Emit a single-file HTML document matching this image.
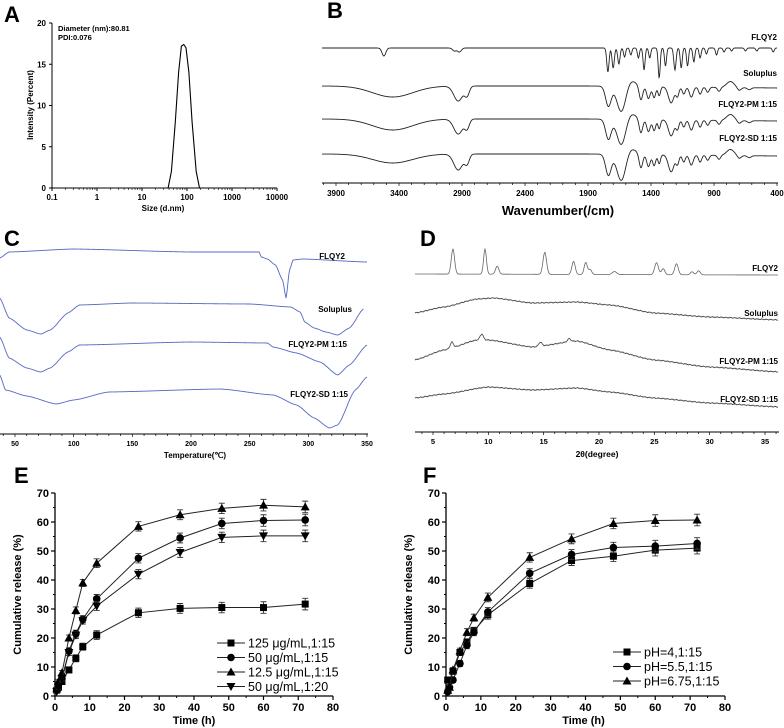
<!DOCTYPE html>
<html><head><meta charset="utf-8"><style>
html,body{margin:0;padding:0;background:#fff}
svg{display:block;font-family:"Liberation Sans",Arial,sans-serif}
</style></head><body>
<svg id="fig" width="784" height="728" viewBox="0 0 784 728">
<g font-weight="bold" font-size="22" fill="#000">
<text x="4" y="22">A</text>
<text x="327" y="18">B</text>
<text x="4" y="246">C</text>
<text x="420" y="246">D</text>
<text x="14" y="483">E</text>
<text x="423" y="483">F</text>
</g>
<g id="A"></g>
<g id="B"></g>
<g id="C"></g>
<g id="D"></g>
<g id="E"></g>
<g id="F"></g>
</svg>
<script>
// ---- Panel A data
const aSizes=[38,45,55,65,75,85,95,110,130,160,190];
const aIntensity=[0,2,8,14,17.2,17.4,17,14,8,2,0];
const aXTicks=[0.1,1,10,100,1000,10000];
const aYTicks=[0,5,10,15,20];
// ---- Panel B data: [wavenumber, depth, width]
const bLabels=["FLQY2","Soluplus","FLQY2-PM 1:15","FLQY2-SD 1:15"];
const bFLQY2=[[3520,8,15],[2960,3,15],[2920,4,15],[1742,24,9],[1700,20,9],[1655,16,9],[1610,9,8],[1560,7,8],[1500,10,8],[1455,22,8],[1410,10,8],[1335,30,8],[1285,18,8],[1210,22,9],[1160,20,8],[1110,18,8],[1060,14,8],[1010,10,8],[960,6,8],[880,7,8],[820,4,8],[760,3,8],[650,3,8],[560,3,8],[430,4,8]];
const bSoluplus=[[3450,11,160],[2930,15,35],[2860,9,18],[1738,20,22],[1635,26,35],[1560,-6,40],[1480,14,14],[1420,12,14],[1375,11,12],[1335,9,10],[1240,16,22],[1190,9,12],[1140,7,12],[1080,10,15],[1010,7,12],[950,5,12],[860,4,12],[770,-6,30],[700,3,15],[620,2,15]];
const bPM=[[3450,11,160],[2930,15,35],[2860,9,18],[1738,20,22],[1635,26,35],[1560,-6,40],[1480,14,14],[1420,12,14],[1375,11,12],[1335,9,10],[1240,16,22],[1190,9,12],[1140,7,12],[1080,10,15],[1010,7,12],[950,5,12],[860,4,12],[770,-6,30],[700,3,15],[620,2,15]];
const bSD=[[3450,9,160],[2930,16,35],[2860,9,18],[1738,21,22],[1635,27,35],[1560,-6,40],[1480,14,14],[1420,12,14],[1375,11,12],[1335,9,10],[1240,17,22],[1190,9,12],[1140,7,12],[1080,10,15],[1010,7,12],[950,5,12],[860,4,12],[770,-6,30],[700,3,15],[620,2,15]];
const bXTicks=[3900,3400,2900,2400,1900,1400,900,400];
// ---- Panel C data: [temperature, signal]
const cLabels=["FLQY2","Soluplus","FLQY2-PM 1:15","FLQY2-SD 1:15"];
const cFLQY2=[[37,258],[45,252],[100,249],[200,252],[258,252],[260,257],[265,259],[272,265],[278,280],[281,298],[284,270],[287,260],[295,259],[350,262]];
const cSoluplus=[[37,298],[45,318],[60,330],[72,334],[80,330],[95,313],[105,305],[150,303],[250,304],[285,307],[293,312],[297,322],[305,328],[315,332],[325,335],[335,328],[347,309]];
const cPM=[[37,337],[45,358],[60,368],[72,372],[80,368],[95,352],[105,345],[200,342],[265,343],[270,347],[290,353],[310,362],[325,375],[335,365],[350,345]];
const cSD=[[37,375],[42,390],[60,396],[85,404],[100,400],[130,392],[225,389],[270,395],[290,405],[305,418],[318,428],[325,425],[340,390],[350,377]];
const cXTicks=[50,100,150,200,250,300,350];
// ---- Panel D data
const dLabels=["FLQY2","Soluplus","FLQY2-PM 1:15","FLQY2-SD 1:15"];
const dFLQY2Base=[[3.3,274],[36.5,275]];
const dFLQY2Peaks=[[6.8,25,0.15],[9.7,25,0.13],[10.8,8,0.15],[15.1,22,0.16],[17.7,13,0.15],[18.8,12,0.14],[19.2,5,0.14],[21.4,3,0.2],[25.2,12,0.17],[25.8,6,0.15],[27.0,11,0.16],[28.4,3,0.15],[29.0,4,0.15]];
const dSolBase=[[3.3,313],[6,307],[9,299],[10.5,298],[14,303],[18,302],[21,305],[25,313],[30,317],[36.5,320]];
const dPMBase=[[3.3,360],[6,350],[9,340],[10,340],[14,347],[18,341],[21,350],[25,360],[30,367],[36.5,372]];
const dPMPeaks=[[6.7,6,0.15],[9.4,6,0.15],[14.7,4,0.15],[17.3,3,0.15]];
const dSDBase=[[3.3,398],[6,394],[10,387],[14,390],[18,388],[21,392],[25,398],[30,403],[36.5,407]];
const dXTicks=[5,10,15,20,25,30,35];
// ---- Panel E data
const eTime=[0.5,1,2,4,6,8,12,24,36,48,60,72];
const e125=[2,3,5,9,13,17,21,28.7,30.2,30.5,30.5,31.7];
const e50=[2,4,6,15.5,21.5,26.5,33.5,47.5,54.5,59.5,60.5,60.7];
const e12=[2.5,5,8,20,29.5,39,45.8,58.5,62.5,64.7,65.8,65.2];
const e50b=[1.5,3,6,15,21,26,31,42,49.5,54.7,55.2,55.2];
const eErr=[0.5,0.6,0.8,1,1.2,1.2,1.5,1.6,1.7,1.8,2,2];
const eLabels=["125 μg/mL,1:15","50 μg/mL,1:15","12.5 μg/mL,1:15","50 μg/mL,1:20"];
// ---- Panel F data
const fTime=[0.5,1,2,4,6,8,12,24,36,48,60,72];
const fPH4=[5.5,5.5,8.5,15,18.5,22.5,28,38.8,46.7,48.2,50.3,51];
const fPH55=[1.5,3,5.5,11.2,17.5,22,29,42.3,48.8,51.2,51.7,52.6];
const fPH675=[2,3,9,15.5,22,27,34,47.8,54.2,59.5,60.5,60.7];
const fErr=[0.5,0.6,0.8,1,1.2,1.2,1.5,1.6,1.7,1.8,2,2];
const fLabels=["pH=4,1:15","pH=5.5,1:15","pH=6.75,1:15"];
const relTicks=[0,10,20,30,40,50,60,70];
const timeTicks=[0,10,20,30,40,50,60,70,80];

const NS="http://www.w3.org/2000/svg";
function mk(p,tag,at,txt){const e=document.createElementNS(NS,tag);for(const k in at)e.setAttribute(k,at[k]);if(txt!==undefined)e.textContent=txt;p.appendChild(e);return e;}
function interp(pts,x){if(x<=pts[0][0])return pts[0][1];for(let i=1;i<pts.length;i++){if(x<=pts[i][0]){const a=pts[i-1],b=pts[i];const t=(x-a[0])/(b[0]-a[0]);const s=t*t*(3-2*t);return a[1]+(b[1]-a[1])*(0.5*t+0.5*s);}}return pts[pts.length-1][1];}

// ===== Panel A
(function(){const g=document.getElementById('A');
const X=v=>52+(Math.log10(v)+1)*(225/5), Y=v=>188-v*(165/20);
const ax=mk(g,'path',{d:`M52 23V188H277`,stroke:'#000',fill:'none','stroke-width':1});

aYTicks.forEach(v=>{mk(g,'line',{x1:49,x2:52,y1:Y(v),y2:Y(v),stroke:'#000'});const t=mk(g,'text',{x:46,y:Y(v)+3,'font-size':8,'font-weight':'bold','text-anchor':'end'},v);});
aXTicks.forEach((v,i)=>{mk(g,'line',{x1:X(v),x2:X(v),y1:188,y2:191,stroke:'#000'});const t=mk(g,'text',{x:X(v),y:200,'font-size':8,'font-weight':'bold','text-anchor':'middle'},v);
if(i<aXTicks.length-1)for(let k=2;k<10;k++)mk(g,'line',{x1:X(v*k),x2:X(v*k),y1:188,y2:190,stroke:'#000','stroke-width':0.6});});
let d='';aSizes.forEach((s,i)=>d+=(i?'L':'M')+X(s).toFixed(1)+' '+Y(aIntensity[i]).toFixed(1));
const c=mk(g,'path',{d,fill:'none',stroke:'#000','stroke-width':1.1,'stroke-linejoin':'round'});
let t=mk(g,'text',{x:58,y:31,'font-size':7.5,'font-weight':'bold'},'Diameter (nm):80.81');
t=mk(g,'text',{x:58,y:40,'font-size':7.5,'font-weight':'bold'},'PDI:0.076');
t=mk(g,'text',{x:163,y:211,'font-size':8,'font-weight':'bold','text-anchor':'middle'},'Size (d.nm)');
t=mk(g,'text',{x:0,y:0,'font-size':8,'font-weight':'bold','text-anchor':'middle',transform:'translate(33,105) rotate(-90)'},'Intensity (Percent)');
})();

// ===== Panel B
(function(){const g=document.getElementById('B');
const X=v=>336+(3900-v)*(441/3500);
const base=[48,86,119,154];const sets=[bFLQY2,bSoluplus,bPM,bSD];
mk(g,'line',{x1:322,x2:778,y1:183,y2:183,stroke:'#000'});
for(let v=4000;v>=400;v-=100){mk(g,'line',{x1:X(v),x2:X(v),y1:183,y2:bXTicks.includes(v)?186:185,stroke:'#000','stroke-width':0.7});}
bXTicks.forEach(v=>{const t=mk(g,'text',{x:X(v),y:196,'font-size':8,'font-weight':'bold','text-anchor':'middle'},v);});
const tt=mk(g,'text',{x:558,y:215,'font-size':13,'font-weight':'bold','text-anchor':'middle'},'Wavenumber(/cm)');
sets.forEach((pk,si)=>{let d='';for(let px=322;px<=777;px+=0.5){const w=3900-(px-336)*3500/441;let y=base[si];
if(si>0){if(w<1900)y+=2*(1900-w)/1500;}
pk.forEach(([c,dp,wd])=>{y+=dp*Math.exp(-((w-c)*(w-c))/(2*wd*wd));});
d+=(d?'L':'M')+px.toFixed(1)+' '+y.toFixed(2);}
const p=mk(g,'path',{d,fill:'none',stroke:'#222','stroke-width':0.9});
const t=mk(g,'text',{x:777,y:[40,76,107,141][si],'font-size':8,'font-weight':'bold','text-anchor':'end'},bLabels[si]);});
})();

// ===== Panel C
(function(){const g=document.getElementById('C');
const X=v=>15+(v-50)*(352/300);
mk(g,'line',{x1:0,x2:368,y1:434,y2:434,stroke:'#000'});
for(let v=40;v<=350;v+=10)mk(g,'line',{x1:X(v),x2:X(v),y1:434,y2:cXTicks.includes(v)?437:436,stroke:'#000','stroke-width':0.7});
cXTicks.forEach(v=>{const t=mk(g,'text',{x:X(v),y:446,'font-size':7,'font-weight':'bold','text-anchor':'middle'},v);});
const tt=mk(g,'text',{x:195,y:458,'font-size':8,'font-weight':'bold','text-anchor':'middle'},'Temperature(℃)');
[cFLQY2,cSoluplus,cPM,cSD].forEach((pts,si)=>{let d='';for(let T=pts[0][0];T<=pts[pts.length-1][0];T+=0.5){d+=(d?'L':'M')+X(T).toFixed(1)+' '+interp(pts,T).toFixed(2);}
const p=mk(g,'path',{d,fill:'none',stroke:'#5468c4','stroke-width':0.9});
const t=mk(g,'text',{x:[345,352,347,348][si],y:[259,312,347,397][si],'font-size':8,'font-weight':'bold','text-anchor':'end'},cLabels[si]);});
})();

// ===== Panel D
(function(){const g=document.getElementById('D');
const X=v=>433+(v-5)*(332/30);
mk(g,'line',{x1:415,x2:779,y1:432,y2:432,stroke:'#000'});
for(let v=4;v<=36;v+=1)mk(g,'line',{x1:X(v),x2:X(v),y1:432,y2:dXTicks.includes(v)?435:434,stroke:'#000','stroke-width':0.7});
dXTicks.forEach(v=>{const t=mk(g,'text',{x:X(v),y:444,'font-size':7.5,'font-weight':'bold','text-anchor':'middle'},v);});
const tt=mk(g,'text',{x:597,y:457,'font-size':8.5,'font-weight':'bold','text-anchor':'middle'},'2θ(degree)');
const series=[[dFLQY2Base,dFLQY2Peaks],[dSolBase,[]],[dPMBase,dPMPeaks],[dSDBase,[]]];
series.forEach(([b,pk],si)=>{let d='';for(let px=415;px<=778;px+=0.5){const th=5+(px-433)*30/332;let y=interp(b,th);
pk.forEach(([c,h,w])=>{y-=h*Math.exp(-((th-c)*(th-c))/(2*w*w));});
if(si>0)y+=0.6*Math.sin(px*2.7)*Math.cos(px*1.3);
d+=(d?'L':'M')+px.toFixed(1)+' '+y.toFixed(2);}
const p=mk(g,'path',{d,fill:'none',stroke:si?'#444':'#666','stroke-width':0.8});
const t=mk(g,'text',{x:778,y:[271,316,364,402][si],'font-size':8,'font-weight':'bold','text-anchor':'end'},dLabels[si]);});
})();

// ===== Release panels
function release(id,x0,x1,times,series,err,labels,markers,legX,legY){
const g=document.getElementById(id);const y0=696,y1=493;
const X=v=>x0+v*(x1-x0)/80, Y=v=>y0-v*(y0-y1)/70;
mk(g,'path',{d:`M${x0} ${y1}V${y0}H${x1}`,fill:'none',stroke:'#000','stroke-width':1.3});
relTicks.forEach(v=>{mk(g,'line',{x1:x0-4,x2:x0,y1:Y(v),y2:Y(v),stroke:'#000','stroke-width':1.2});if(v<70)mk(g,'line',{x1:x0-2,x2:x0,y1:Y(v+5),y2:Y(v+5),stroke:'#000'});
const t=mk(g,'text',{x:x0-6,y:Y(v)+4,'font-size':11,'font-weight':'bold','text-anchor':'end'},v);});
timeTicks.forEach(v=>{mk(g,'line',{x1:X(v),x2:X(v),y1:y0,y2:y0+4,stroke:'#000','stroke-width':1.2});if(v<80)mk(g,'line',{x1:X(v+5),x2:X(v+5),y1:y0,y2:y0+2,stroke:'#000'});
const t=mk(g,'text',{x:X(v),y:y0+15,'font-size':11,'font-weight':'bold','text-anchor':'middle'},v);});
let t=mk(g,'text',{x:(x0+x1)/2-(id=='E'?0:2),y:724,'font-size':11,'font-weight':'bold','text-anchor':'middle'},'Time (h)');
t=mk(g,'text',{x:0,y:0,'font-size':11,'font-weight':'bold','text-anchor':'middle',transform:`translate(${x0-34},${(y0+y1)/2}) rotate(-90)`},'Cumulative release (%)');
function marker(par,m,x,y){if(m=='s')return mk(par,'rect',{x:x-3.5,y:y-3.5,width:7,height:7,fill:'#000'});if(m=='c')return mk(par,'circle',{cx:x,cy:y,r:3.8,fill:'#000'});
if(m=='t')return mk(par,'path',{d:`M${x} ${y-4.5}L${x+4.5} ${y+3.5}L${x-4.5} ${y+3.5}Z`,fill:'#000'});return mk(par,'path',{d:`M${x} ${y+4.5}L${x+4.5} ${y-3.5}L${x-4.5} ${y-3.5}Z`,fill:'#000'});}
series.forEach((vals,si)=>{const sg=mk(g,'g',{});
let d='';times.forEach((tm,i)=>d+=(i?'L':'M')+X(tm).toFixed(1)+' '+Y(vals[i]).toFixed(1));
mk(sg,'path',{d,fill:'none',stroke:'#222','stroke-width':1});
times.forEach((tm,i)=>{const x=X(tm),ya=Y(vals[i]+err[i]),yb=Y(vals[i]-err[i]);mk(sg,'path',{d:`M${x} ${ya}V${yb}M${x-3} ${ya}H${x+3}M${x-3} ${yb}H${x+3}`,stroke:'#333','stroke-width':0.9,fill:'none'});
const m=marker(sg,markers[si],x,Y(vals[i]));});});
labels.forEach((lb,i)=>{const lg=mk(g,'g',{});const y=legY+i*14.5;
mk(lg,'line',{x1:legX,x2:legX+28,y1:y,y2:y,stroke:'#222','stroke-width':1});marker(lg,markers[i],legX+14,y);
mk(lg,'text',{x:legX+31,y:y+4.5,'font-size':12.5},lb);});}
release('E',55,333,eTime,[e125,e50,e12,e50b],eErr,eLabels,['s','c','t','v'],217,643);
release('F',446,725,fTime,[fPH4,fPH55,fPH675],fErr,fLabels,['s','c','t'],613,652);
</script>
</body></html>
